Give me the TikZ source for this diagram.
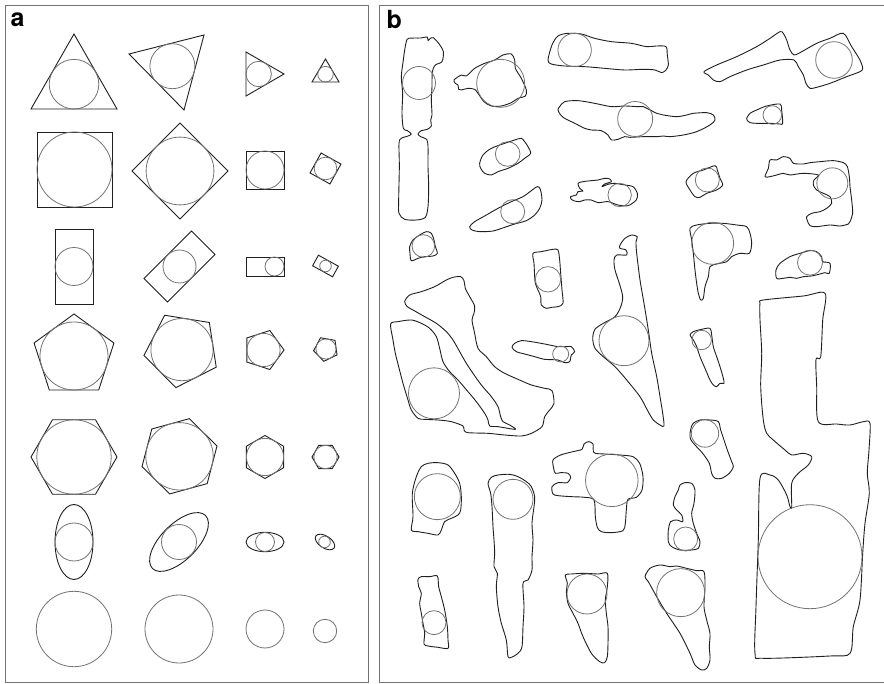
\documentclass[tikz,border=0pt]{standalone}
\usepackage{fontspec}
\setsansfont{TeX Gyre Heros}
\tikzset{
  frame/.style={draw=black!55, line width=1.3pt},
  poly/.style={draw=black!88, line width=0.9pt, line join=miter},
  circ/.style={draw=black!55, line width=0.8pt},
  blob/.style={draw=black!88, line width=0.9pt, line join=round},
  lab/.style={font=\sffamily\bfseries\fontsize{25}{25}\selectfont, inner sep=0pt, anchor=base west}
}
% cx cy R (n-1) n start-angle
\newcommand{\rpoly}[6]{%
  \draw[poly] ({#1+#3*cos(#6)},{#2+#3*sin(#6)})
    \foreach \k in {1,...,#4} { -- ({#1+#3*cos(#6+360/#5*\k)},{#2+#3*sin(#6+360/#5*\k)}) } -- cycle;}
\begin{document}
\begin{tikzpicture}[x=1pt,y=-1pt]
\useasboundingbox (0,0) rectangle (884,684);
\fill[white] (0,0) rectangle (884,684);
% frames
\draw[frame] (5.5,5.5) rectangle (368.5,682.5);
\draw[frame] (379.5,5.5) rectangle (892,682.5);
\node[lab] (la) at (10.5,27) {a};
\node[lab] (lb) at (386.5,29) {b};

% ---------- panel a ----------
% triangles
\draw[poly] (74,34) -- (117,109) -- (31,109) -- cycle;
\draw[circ] (74,84.2) circle[radius=24.8pt];
\draw[poly] (129,54) -- (204,35) -- (184,110) -- cycle;
\draw[circ] (172.4,66.2) circle[radius=22.5pt];
\draw[poly] (246,52) -- (284,74) -- (246,96) -- cycle;
\draw[circ] (258.7,74) circle[radius=12.7pt];
\draw[poly] (325.5,59) -- (339,82) -- (312,82) -- cycle;
\draw[circ] (325.5,74.2) circle[radius=7.8pt];
% squares
\draw[poly] (37,132) rectangle (112,207);
\draw[circ] (74.5,169.5) circle[radius=37.5pt];
\rpoly{180}{171}{48}{3}{4}{-90}
\draw[circ] (180,171) circle[radius=33.9pt];
\draw[poly] (246,151) rectangle (284,189);
\draw[circ] (265,170) circle[radius=19pt];
\rpoly{325.5}{168.5}{16.1}{3}{4}{-106}
\draw[circ] (325.5,168.5) circle[radius=11.3pt];
% rectangles
\draw[poly] (55,229) rectangle (93,304);
\draw[circ] (74,266.5) circle[radius=19pt];
\draw[poly] (191.5,231.1) -- (214.9,254.5) -- (167.5,301.9) -- (144.1,278.5) -- cycle;
\draw[circ] (179.5,266.5) circle[radius=16.5pt];
\draw[poly] (246,257) rectangle (284,276);
\draw[circ] (274.5,266.5) circle[radius=9.5pt];
\draw[poly] (318.4,255.2) -- (338.4,266.2) -- (332.6,276.8) -- (312.6,265.8) -- cycle;
\draw[circ] (325.5,266) circle[radius=5.8pt];
% pentagons
\rpoly{74}{356}{42}{4}{5}{-90}
\draw[circ] (74,356) circle[radius=34pt];
\rpoly{182}{349.6}{38.5}{4}{5}{99.2}
\draw[circ] (182,349.6) circle[radius=31.1pt];
\rpoly{263.5}{350}{20.5}{4}{5}{0}
\draw[circ] (263.5,350) circle[radius=16.6pt];
\rpoly{326}{349}{12.5}{4}{5}{172}
\draw[circ] (326,349) circle[radius=10.1pt];
% hexagons
\rpoly{74}{457}{43}{5}{6}{0}
\draw[circ] (74,457) circle[radius=37.2pt];
\rpoly{179.5}{456.3}{38.9}{5}{6}{-15.4}
\draw[circ] (179.5,456.3) circle[radius=33.7pt];
\rpoly{265}{457}{21.5}{5}{6}{-90}
\draw[circ] (265,457) circle[radius=18.6pt];
\rpoly{325.5}{457}{13.5}{5}{6}{0}
\draw[circ] (325.5,457) circle[radius=11.7pt];
% ellipses
\draw[poly] (74,542) ellipse[x radius=19pt, y radius=37.5pt];
\draw[circ] (74,542) circle[radius=19pt];
\draw[poly, rotate around={45:(179,542)}] (179,542) ellipse[x radius=37.5pt, y radius=18pt];
\draw[circ] (179,542) circle[radius=17.5pt];
\draw[poly] (265,542) ellipse[x radius=19pt, y radius=9.7pt];
\draw[circ] (265,542) circle[radius=9.5pt];
\draw[poly, rotate around={-33:(325,542)}] (325,542) ellipse[x radius=11pt, y radius=6pt];
\draw[circ] (324.5,542) circle[radius=5.8pt];
% circles
\draw[circ] (74,629) circle[radius=37.7pt];
\draw[circ] (179,629) circle[radius=34pt];
\draw[circ] (265,629) circle[radius=19pt];
\draw[circ] (325,631) circle[radius=11.7pt];

% ---------- panel b ----------
\begin{scope}[shift={(378,0)}, x=0.3333333pt, y=-0.3333333pt]
% B1
\draw[blob] plot[smooth cycle, tension=0.5] coordinates {(85,125) (92,115) (128,114) (148,111) (150,122) (158,114) (166,113) (182,130) (196,155) (192,185) (172,195) (163,215) (162,260) (160,300) (162,345) (158,360) (160,378) (148,388) (130,392) (120,402) (128,410) (146,418) (150,440) (150,500) (152,560) (150,620) (142,652) (115,660) (80,658) (63,640) (62,600) (64,500) (63,430) (70,415) (90,408) (100,402) (88,392) (76,385) (72,340) (74,280) (70,230) (76,180) (80,150)};
\draw[circ] (123,249) circle[radius=16.5pt];
% B2
\draw[blob] plot[smooth cycle, tension=0.5] coordinates {(228,240) (250,225) (265,228) (290,205) (320,190) (350,180) (375,165) (400,162) (410,180) (412,205) (430,235) (445,270) (442,288) (420,295) (400,308) (370,318) (340,318) (318,305) (300,280) (290,268) (270,265) (250,270) (242,268) (240,255) (232,250)};
\draw[circ] (368,250) circle[radius=24pt];
% B3
\draw[blob] plot[smooth cycle, tension=0.5] coordinates {(510,180) (522,135) (540,108) (570,100) (610,102) (650,115) (700,125) (760,130) (806,140) (836,138) (864,140) (868,165) (871,195) (864,210) (851,218) (831,210) (796,208) (740,210) (680,205) (620,200) (560,198) (520,192)};
\draw[circ] (590,150) circle[radius=16.7pt];
% B4
\draw[blob] plot[smooth cycle, tension=0.5] coordinates {(978,215) (1016,195) (1076,170) (1136,140) (1176,115) (1206,95) (1216,100) (1226,120) (1236,150) (1248,165) (1266,158) (1316,130) (1356,115) (1396,100) (1421,140) (1446,180) (1454,205) (1446,215) (1406,230) (1356,250) (1316,262) (1296,265) (1284,250) (1276,225) (1261,200) (1248,180) (1206,180) (1156,195) (1106,210) (1056,230) (1026,245) (1006,240) (991,225)};
\draw[circ] (1368,180) circle[radius=18.3pt];
% B5
\draw[blob] plot[smooth cycle, tension=0.5] coordinates {(545,320) (560,305) (600,302) (650,310) (700,320) (740,318) (780,320) (796,320) (836,340) (856,345) (896,350) (926,345) (946,340) (986,338) (1006,345) (1011,360) (996,375) (956,395) (916,405) (876,410) (856,408) (836,410) (796,410) (756,412) (740,410) (720,418) (700,420) (690,405) (670,392) (640,390) (620,385) (600,375) (580,365) (560,355) (548,345) (540,330)};
\draw[circ] (771.5,357) circle[radius=17.5pt];
% B6
\draw[blob] plot[smooth cycle, tension=0.5] coordinates {(1106,355) (1116,340) (1136,330) (1166,318) (1206,312) (1211,330) (1214,370) (1206,372) (1176,370) (1136,370) (1116,368) (1108,362)};
\draw[circ] (1183,345) circle[radius=9.3pt];
% B7
\draw[blob] plot[smooth cycle, tension=0.5] coordinates {(305,490) (315,465) (340,445) (380,430) (410,420) (430,415) (440,425) (450,440) (458,460) (440,475) (420,490) (390,505) (360,515) (340,525) (320,520) (308,505)};
\draw[circ] (389,462) circle[radius=12.3pt];
% B8
\draw[blob] plot[smooth cycle, tension=0.5] coordinates {(578,590) (595,585) (600,575) (615,573) (605,565) (600,550) (615,545) (640,542) (660,540) (680,535) (695,537) (700,545) (680,552) (672,560) (690,553) (710,550) (740,555) (765,560) (778,580) (775,600) (750,617) (720,615) (690,605) (660,608) (640,600) (620,600) (605,605) (590,603) (580,598)};
\draw[circ] (725,585) circle[radius=11.7pt];
% B9
\draw[blob] plot[smooth cycle, tension=0.5] coordinates {(924,545) (946,520) (976,510) (1011,497) (1018,510) (1026,535) (1034,555) (1016,570) (986,580) (966,592) (951,590) (936,570)};
\draw[circ] (988,540) circle[radius=12pt];
% B10
\draw[blob] plot[smooth cycle, tension=0.5] coordinates {(1161,530) (1171,505) (1176,480) (1196,480) (1216,470) (1236,475) (1246,490) (1276,492) (1296,488) (1326,485) (1366,482) (1396,488) (1408,500) (1414,530) (1416,560) (1421,600) (1424,640) (1416,665) (1411,672) (1386,678) (1356,675) (1316,680) (1296,677) (1288,662) (1286,650) (1301,640) (1326,635) (1346,625) (1361,610) (1356,590) (1336,580) (1316,570) (1306,555) (1308,540) (1321,525) (1276,520) (1236,525) (1216,520) (1196,525) (1176,530)};
\draw[circ] (1363,550) circle[radius=15.5pt];
% B11
\draw[blob] plot[smooth cycle, tension=0.5] coordinates {(275,680) (290,665) (320,648) (360,625) (400,605) (435,590) (460,572) (478,560) (487,568) (492,600) (485,625) (470,645) (445,662) (410,672) (380,682) (345,693) (305,695) (282,690)};
\draw[circ] (404,635) circle[radius=12pt];
% B12
\draw[blob] plot[smooth cycle, tension=0.5] coordinates {(95,740) (105,720) (125,705) (145,695) (160,700) (168,720) (172,740) (178,760) (165,768) (140,770) (120,775) (100,782) (96,760)};
\draw[circ] (136,738) circle[radius=11.3pt];
% B13
\draw[blob] plot[smooth cycle, tension=0.5] coordinates {(465,760) (490,755) (525,748) (540,750) (545,780) (548,820) (552,870) (555,910) (540,920) (520,922) (505,925) (490,915) (488,890) (480,870) (472,850) (470,830) (468,790)};
\draw[circ] (510,838) circle[radius=12.7pt];
% B15
\draw[blob] plot[smooth cycle, tension=0.5] coordinates {(936,685) (956,675) (996,670) (1036,670) (1076,675) (1106,680) (1116,700) (1121,730) (1114,760) (1086,760) (1061,770) (1046,785) (1016,792) (996,800) (991,830) (981,860) (976,895) (968,900) (961,880) (956,850) (951,810) (946,760) (941,720)};
\draw[circ] (1004,730) circle[radius=21pt];
% B16
\draw[blob] plot[smooth cycle, tension=0.5] coordinates {(1196,835) (1194,810) (1206,790) (1236,770) (1266,760) (1296,752) (1316,755) (1331,770) (1334,785) (1356,790) (1354,820) (1341,818) (1326,822) (1301,828) (1276,830) (1256,835) (1236,832) (1216,835)};
\draw[circ] (1296,788) circle[radius=12.5pt];
% B17
\draw[blob] plot[smooth cycle, tension=0.5] coordinates {(80,905) (95,885) (130,875) (170,860) (205,840) (225,832) (248,830) (258,842) (262,865) (275,890) (290,918) (288,940) (282,960) (290,1000) (300,1045) (325,1070) (350,1100) (380,1120) (420,1138) (460,1155) (500,1165) (522,1172) (528,1210) (515,1230) (500,1250) (492,1280) (460,1300) (430,1308) (380,1305) (330,1300) (270,1298) (258,1290) (255,1278) (220,1265) (180,1260) (140,1258) (120,1255) (100,1230) (90,1200) (75,1150) (62,1100) (52,1060) (45,1020) (38,972) (60,965) (100,960) (130,970) (155,985) (175,1010) (185,1045) (195,1085) (215,1115) (240,1140) (270,1175) (295,1205) (320,1240) (330,1260) (335,1278) (360,1280) (412,1288) (395,1275) (375,1265) (368,1250) (360,1220) (340,1190) (310,1155) (285,1120) (265,1090) (245,1055) (225,1020) (205,995) (175,970) (140,950) (105,930) (88,920)};
\draw[circ] (168,1180) circle[radius=25.5pt];
% B18
\draw[blob] plot[smooth cycle, tension=0.5] coordinates {(402,1042) (410,1030) (430,1022) (460,1025) (500,1032) (540,1040) (565,1040) (580,1040) (590,1055) (580,1065) (575,1085) (560,1088) (540,1080) (500,1078) (470,1070) (440,1062) (415,1055)};
\draw[circ] (548,1062) circle[radius=8pt];
% B19
\draw[blob] plot[smooth cycle, tension=0.5] coordinates {(936,1005) (946,995) (971,988) (996,985) (1001,1005) (1006,1040) (1016,1070) (1026,1100) (1036,1135) (1038,1150) (1026,1150) (1016,1160) (1006,1155) (996,1140) (981,1105) (966,1070) (956,1040) (946,1020)};
\draw[circ] (971,1020) circle[radius=9.7pt];
% B21
\draw[blob] plot[smooth cycle, tension=0.5] coordinates {(100,1590) (105,1550) (103,1480) (115,1430) (130,1400) (150,1390) (180,1388) (210,1395) (230,1420) (245,1450) (250,1490) (248,1530) (240,1545) (220,1555) (200,1565) (190,1590) (180,1605) (150,1600) (120,1595)};
\draw[circ] (178,1490) circle[radius=23pt];
% B22
\draw[blob] plot[smooth cycle, tension=0.5] coordinates {(330,1450) (340,1432) (360,1425) (395,1423) (420,1430) (445,1445) (460,1460) (470,1490) (468,1520) (462,1570) (465,1620) (462,1670) (462,1710) (450,1740) (435,1750) (438,1820) (435,1880) (432,1940) (420,1960) (400,1972) (390,1970) (385,1920) (370,1870) (360,1820) (355,1760) (358,1720) (348,1700) (350,1660) (348,1620) (345,1580) (342,1520) (338,1480)};
\draw[circ] (405,1498) circle[radius=20pt];
% B23
\draw[blob] plot[smooth cycle, tension=0.5] coordinates {(525,1380) (548,1365) (585,1355) (612,1348) (618,1332) (632,1325) (645,1332) (648,1358) (680,1362) (725,1365) (765,1370) (785,1390) (795,1430) (792,1470) (775,1492) (750,1498) (745,1530) (742,1570) (735,1592) (700,1598) (670,1595) (658,1582) (652,1550) (648,1500) (620,1492) (580,1490) (540,1487) (525,1482) (522,1460) (540,1448) (568,1448) (578,1432) (570,1420) (548,1418) (532,1420) (527,1405)};
\draw[circ] (701.4,1441) circle[radius=26.3pt];
% B24
\draw[blob] plot[smooth cycle, tension=0.5] coordinates {(906,1455) (921,1448) (941,1450) (951,1470) (948,1510) (941,1540) (946,1570) (956,1600) (966,1625) (961,1645) (941,1650) (906,1650) (881,1640) (871,1625) (871,1590) (878,1565) (896,1560) (914,1565) (911,1545) (896,1530) (886,1515) (891,1490) (901,1470)};
\draw[circ] (923,1617) circle[radius=12pt];
% B25
\draw[blob] plot[smooth cycle, tension=0.5] coordinates {(120,1738) (130,1730) (155,1730) (178,1728) (182,1760) (190,1790) (200,1830) (208,1880) (210,1920) (210,1945) (180,1942) (150,1938) (138,1932) (140,1900) (135,1870) (130,1840) (125,1810) (130,1780) (122,1760)};
\draw[circ] (168,1868) circle[radius=12pt];
% B26
\draw[blob] plot[smooth cycle, tension=0.5] coordinates {(562,1725) (580,1722) (620,1720) (660,1722) (688,1720) (688,1760) (682,1800) (685,1840) (690,1880) (690,1930) (688,1970) (680,1988) (665,1985) (640,1960) (615,1910) (600,1870) (585,1840) (570,1810) (565,1775) (568,1750)};
\draw[circ] (627,1782) circle[radius=20pt];
% B27
\draw[blob] plot[smooth cycle, tension=0.5] coordinates {(801,1730) (816,1705) (846,1695) (876,1700) (896,1698) (926,1705) (956,1712) (978,1715) (981,1760) (978,1820) (986,1860) (996,1900) (994,1940) (996,1980) (986,2005) (971,2010) (951,1995) (936,1960) (906,1900) (866,1840) (836,1790) (811,1745)};
\draw[circ] (908,1778) circle[radius=24pt];
% B28
\draw[blob] plot[smooth cycle, tension=0.5] coordinates {(936,1300) (944,1272) (966,1260) (996,1260) (1021,1265) (1028,1290) (1038,1320) (1048,1350) (1061,1385) (1066,1400) (1054,1420) (1031,1435) (1011,1435) (1001,1420) (994,1390) (974,1360) (951,1335) (938,1318)};
\draw[circ] (981,1300.5) circle[radius=13.7pt];
\end{scope}
% B14 (pixel coordinates)
\draw[blob] plot[smooth cycle, tension=0.5] coordinates {(620,245) (625,238.3) (631.7,235) (637.3,236.7) (636,241.7) (636.7,253.3) (640,280) (644,303.3) (648.3,330) (651.7,353.3) (656.7,376.7) (660,396.7) (662.7,413.3) (664,426) (660,425) (653.3,420) (647.3,410) (640,396.7) (626.7,380) (615,366.7) (603.3,356.7) (595,348.3) (592.7,338.3) (595,329.3) (603.3,323.3) (615,316.7) (620.7,306.7) (622.7,296.7) (619.3,283.3) (615,270) (614,260) (616.7,255) (626.7,255) (626,250) (620,248.3)};
\draw[circ] (624,340.7) circle[radius=25pt];
% B20 (pixel coordinates)
\draw[blob] plot[smooth cycle, tension=0.5] coordinates {(760,303.3) (763.3,300) (803.3,296) (825,293.3) (822.7,320) (820.7,356.7) (816,359.3) (816.7,386.7) (818.3,421.7) (836.7,424) (850,425) (863.3,421.7) (870,423.3) (869,450) (867.3,473.3) (869.3,493.3) (865,523.3) (862.7,553.3) (860,600) (853.3,626.7) (850,653.3) (830,656) (763.3,658.3) (755,653.3) (756,606.7) (758.3,540) (760,478.3) (770,475) (778.3,480) (786.7,495) (790,506.7) (791.7,506.7) (791.7,483.3) (798.3,473.3) (808.3,465) (811.7,456.7) (803.3,453.3) (791.7,455) (785,450) (773.3,440) (766.7,433.3) (763.3,420) (760.7,386.7) (761.7,353.3) (760,320)};
\draw[circ] (810,556.7) circle[radius=52pt];
\end{tikzpicture}
\end{document}
